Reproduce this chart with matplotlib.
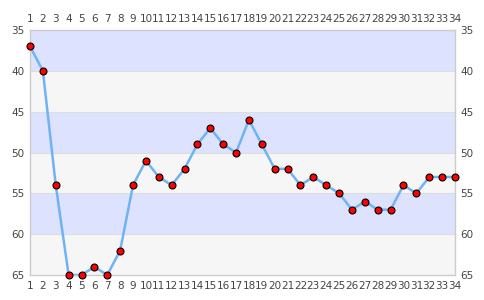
import matplotlib
matplotlib.use("Agg")
import matplotlib.pyplot as plt

# values (y axis is inverted, 35 at top)
x_vals = list(range(1, 35))
y_vals = [37, 40, 54, 65, 65, 64, 65, 62, 54, 51,
          53, 54, 52, 49, 47, 49, 50, 46, 49, 52,
          52, 54, 53, 54, 55, 57, 56, 57, 57, 54,
          55, 53, 53, 53]
y_ticks = [35, 40, 45, 50, 55, 60, 65]

BLUE_BAND = "#dde3fe"
GRAY_BAND = "#f6f6f6"
LINE_COLOR = "#70b3f5"
TEXT_COLOR = "#444444"
FRAME_COLOR = "#cccccc"

fig = plt.figure(figsize=(4.85, 3.0), dpi=100)
ax = fig.add_axes([30 / 485, 25 / 300, 425 / 485, 245 / 300])

# alternating horizontal bands
for i in range(len(y_ticks) - 1):
    color = BLUE_BAND if i % 2 == 0 else GRAY_BAND
    ax.axhspan(y_ticks[i], y_ticks[i + 1], color=color, lw=0, zorder=0)
for yt in y_ticks[1:-1]:
    ax.axhline(yt, color="#dddddd", lw=0.8, zorder=1)

ax.plot(x_vals, y_vals, color=LINE_COLOR, lw=1.8, zorder=2, clip_on=False)
ax.plot(x_vals, y_vals, ls="none", marker="o", markersize=5,
        markerfacecolor="red", markeredgecolor="black", markeredgewidth=0.8,
        zorder=3, clip_on=False)

ax.set_xlim(1, 34)
ax.set_ylim(65, 35)
ax.set_xticks(x_vals)
ax.set_yticks(y_ticks)

ax.tick_params(axis="both", length=0, labelsize=7.5, labelcolor=TEXT_COLOR)
ax.tick_params(axis="x", top=True, labeltop=True, bottom=True, labelbottom=True, pad=4)
ax.tick_params(axis="y", left=True, labelleft=True, right=True, labelright=True, pad=4)

for sp in ax.spines.values():
    sp.set_color(FRAME_COLOR)
    sp.set_linewidth(1.0)

fig.savefig("out.png", dpi=100)
